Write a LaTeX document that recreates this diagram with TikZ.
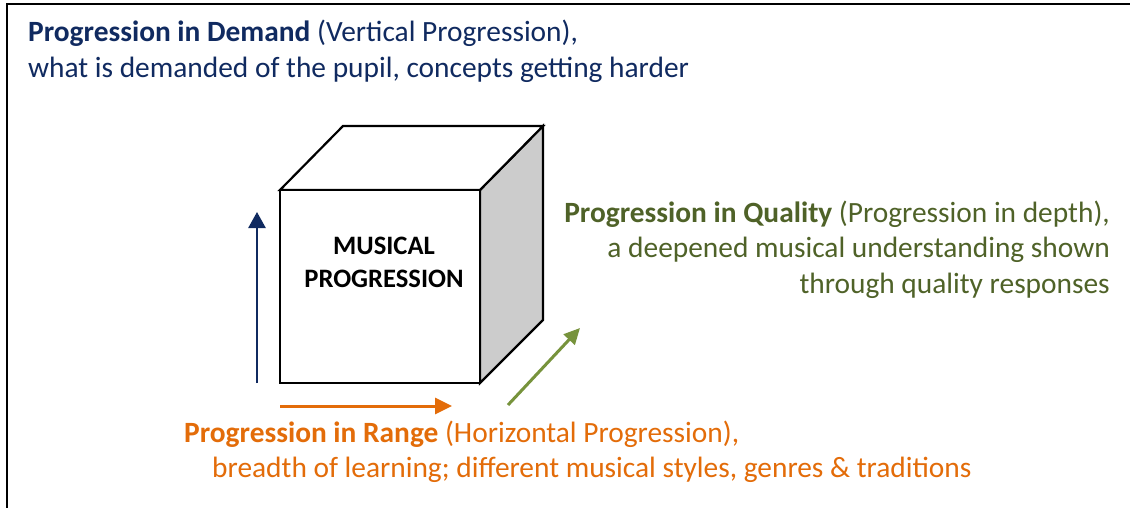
\documentclass[tikz,border=0pt]{standalone}
\usepackage{fontspec}
\setmainfont{Carlito}
\usetikzlibrary{arrows.meta}
\definecolor{navy}{HTML}{102A60}
\definecolor{orng}{HTML}{E36C09}
\definecolor{olive}{HTML}{4F6228}
\definecolor{olivearrow}{HTML}{77933C}
\definecolor{sidegray}{HTML}{CCCCCC}
\begin{document}
\begin{tikzpicture}[x=1pt,y=-1pt,
  lbl/.style={inner sep=0pt, font=\fontsize{29.4}{35.5}\selectfont},
  cubeline/.style={draw=black, line width=2.2pt, line join=miter},
  cubetxt/.style={inner sep=0pt, align=center, font=\fontsize{26.6}{33}\selectfont\bfseries}]
\useasboundingbox (0,0) rectangle (1130,508);
\fill[white] (0,0) rectangle (1130,508);
\draw[line width=2.5pt] (7,508) -- (7,4) -- (1130,4);
% cube
\coordinate (F1) at (280,190);
\coordinate (F2) at (480,190);
\coordinate (F3) at (480,383);
\coordinate (F4) at (280,383);
\coordinate (B1) at (343,126);
\coordinate (B2) at (543,126);
\coordinate (B3) at (543,320);
\filldraw[cubeline, fill=sidegray] (F2) -- (B2) -- (B3) -- (F3) -- cycle;
\filldraw[cubeline, fill=white] (F1) -- (B1) -- (B2) -- (F2) -- cycle;
\filldraw[cubeline, fill=white] (F1) -- (F2) -- (F3) -- (F4) -- cycle;
\node[cubetxt, anchor=base] (cubel1) at (384,254) {MUSICAL};
\node[cubetxt, anchor=base] (cubel2) at (384,287) {PROGRESSION};
% arrows
\coordinate (bs) at (257,383);
\coordinate (be) at (257,212);
\coordinate (os) at (280,406);
\coordinate (oe) at (452,406);
\coordinate (gs) at (508,405);
\coordinate (ge) at (580,328);
\draw[navy, line width=2.5pt, -{Triangle[length=16pt,width=17pt]}] (bs) -- (be);
\draw[orng, line width=3pt, -{Triangle[length=17pt,width=16pt]}] (os) -- (oe);
\draw[olivearrow, line width=3pt, -{Triangle[length=16pt,width=15pt]}] (gs) -- (ge);
% texts
\node[lbl, navy, anchor=base west] (d1) at (28,42) {\textbf{Progression in Demand} (Vertical Progression),};
\node[lbl, navy, anchor=base west] (d2) at (28,78) {what is demanded of the pupil, concepts getting harder};
\node[lbl, olive, anchor=base east] (q1) at (1110,222) {\textbf{Progression in Quality} (Progression in depth),};
\node[lbl, olive, anchor=base east] (q2) at (1110,257) {a deepened musical understanding shown};
\node[lbl, olive, anchor=base east] (q3) at (1110,293) {through quality responses};
\node[lbl, orng, anchor=base west] (r1) at (184,442) {\textbf{Progression in Range} (Horizontal Progression),};
\node[lbl, orng, anchor=base west] (r2) at (212,477) {breadth of learning; different musical styles, genres \& traditions};
\end{tikzpicture}
\end{document}
